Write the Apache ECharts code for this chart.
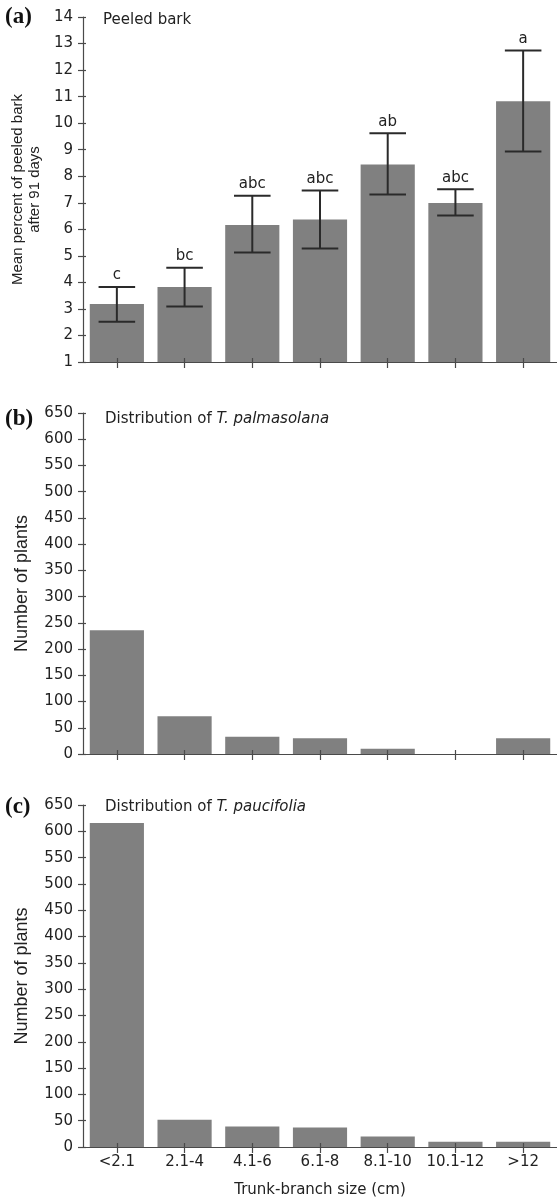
<!DOCTYPE html>
<html>
<head>
<meta charset="utf-8">
<script src="https://cdn.jsdelivr.net/npm/echarts@6/dist/echarts.min.js"></script>
<style>
    html, body {margin:0; padding:0; background:#fff;}
    #main {width:557px; height:1199px;}
</style>
</head>
<body>
<div id="main"></div>
<script>
// size classes, shared by all three panels
const sizeClasses = ['<2.1', '2.1-4', '4.1-6', '6.1-8', '8.1-10', '10.1-12', '>12'];

// (a) peeled bark, mean and error bar ends
const barkMean = [3.19, 3.83, 6.16, 6.37, 8.44, 6.99, 10.83];
const barkLow  = [2.52, 3.09, 5.13, 5.28, 7.31, 6.52, 8.93];
const barkHigh = [3.83, 4.55, 7.26, 7.46, 9.62, 7.51, 12.74];
const barkLetters = ['c', 'bc', 'abc', 'abc', 'ab', 'abc', 'a'];

// (b) and (c) counts of plants
const palmasolana = [236, 72, 33, 30, 10, 0, 30];
const paucifolia  = [616, 52, 39, 37, 20, 10, 10];

const FONT = 'DejaVu Sans';      // wide face, the figure is stretched sideways
const VFONT = 'Liberation Sans'; // rotated axis names
const INK = '#222';
const BAR = '#808080';
const AX = '#4a4a4a';

let myChart = echarts.init(document.getElementById('main'));

let grids = [
    {left: 83, width: 476, top: 17, height: 345},
    {left: 83, width: 476, top: 413, height: 341},
    {left: 83, width: 476, top: 805, height: 342}
];

function xAxes(gi, showLabels){
    let main = {
        type: 'category', gridIndex: gi, data: sizeClasses, position: 'bottom', z: 4,
        axisLine: {show: true, lineStyle: {color: AX, width: 1.2}},
        axisTick: {show: true, interval: 0, alignWithLabel: true, length: 6, lineStyle: {color: AX, width: 1.2}},
        axisLabel: {show: showLabels, interval: 0, color: INK, fontFamily: FONT, fontSize: 15, margin: 8},
        splitLine: {show: false}
    };
    if(showLabels){
        main.name = 'Trunk-branch size (cm)';
        main.nameLocation = 'middle';
        main.nameGap = 36;
        main.nameTextStyle = {color: INK, fontFamily: FONT, fontSize: 15};
    }
    let inner = {
        type: 'category', gridIndex: gi, data: sizeClasses, position: 'bottom', z: 4,
        axisLine: {show: false},
        axisTick: {show: true, interval: 0, alignWithLabel: true, inside: true, length: 4, lineStyle: {color: AX, width: 1.2}},
        axisLabel: {show: false},
        splitLine: {show: false}
    };
    return [main, inner];
}

function yAxes(gi, min, max, interval, name, nameGap, nameSize){
    let main = {
        type: 'value', gridIndex: gi, min: min, max: max, interval: interval, position: 'left', z: 4,
        name: name, nameLocation: 'middle', nameGap: nameGap,
        nameTextStyle: {color: INK, fontFamily: VFONT, fontSize: nameSize, lineHeight: 17},
        axisLine: {show: true, lineStyle: {color: AX, width: 1.2}},
        axisTick: {show: true, length: 5, lineStyle: {color: AX, width: 1.2}},
        axisLabel: {color: INK, fontFamily: FONT, fontSize: 15, margin: 10},
        splitLine: {show: false}
    };
    let inner = {
        type: 'value', gridIndex: gi, min: min, max: max, interval: interval, position: 'left', z: 4,
        axisLine: {show: false},
        axisTick: {show: true, inside: true, length: 3, lineStyle: {color: AX, width: 1.2}},
        axisLabel: {show: false},
        splitLine: {show: false}
    };
    return [main, inner];
}

let xa = [].concat(xAxes(0, false), xAxes(1, false), xAxes(2, true));
let ya = [].concat(
    yAxes(0, 1, 14, 1, 'Mean percent of peeled bark\nafter 91 days', 38, 15),
    yAxes(1, 0, 650, 50, 'Number of plants', 52, 18),
    yAxes(2, 0, 650, 50, 'Number of plants', 52, 18)
);

let errData = barkLow.map((lo, i) => [i, lo, barkHigh[i]]);

let panelLabel = {fontFamily: 'Liberation Serif', fontWeight: 'bold', fontSize: 23, color: '#111'};
let panelTitle = {fontFamily: FONT, fontSize: 15, color: INK, fontWeight: 'normal'};
let italic = Object.assign({}, panelTitle, {fontStyle: 'italic'});

let option = {
    animation: false,
    backgroundColor: '#fff',
    title: [
        {text: '(a)', left: 5, top: 6, padding: 0, textStyle: panelLabel},
        {text: 'Peeled bark', left: 103, top: 13, padding: 0, textStyle: panelTitle},
        {text: '(b)', left: 5, top: 408, padding: 0, textStyle: panelLabel},
        {text: '{n|Distribution of }{i|T. palmasolana}', left: 105, top: 412, padding: 0,
            textStyle: Object.assign({}, panelTitle, {rich: {n: panelTitle, i: italic}})},
        {text: '(c)', left: 5, top: 796, padding: 0, textStyle: panelLabel},
        {text: '{n|Distribution of }{i|T. paucifolia}', left: 105, top: 800, padding: 0,
            textStyle: Object.assign({}, panelTitle, {rich: {n: panelTitle, i: italic}})}
    ],
    grid: grids,
    xAxis: xa,
    yAxis: ya,
    series: [
        {
            name: 'Peeled bark', type: 'bar', xAxisIndex: 0, yAxisIndex: 0,
            data: barkMean, barCategoryGap: '20%',
            itemStyle: {color: BAR}
        },
        {
            name: 'error', type: 'custom', xAxisIndex: 0, yAxisIndex: 0,
            data: errData, z: 5,
            renderItem: function(params, api){
                let lo = api.coord([api.value(0), api.value(1)]);
                let hi = api.coord([api.value(0), api.value(2)]);
                let half = api.size([1, 0])[0] * 0.27;
                let st = {stroke: '#2a2a2a', lineWidth: 2};
                return {
                    type: 'group',
                    children: [
                        {type: 'line', shape: {x1: hi[0], y1: hi[1], x2: lo[0], y2: lo[1]}, style: st},
                        {type: 'line', shape: {x1: hi[0] - half, y1: hi[1], x2: hi[0] + half, y2: hi[1]}, style: st},
                        {type: 'line', shape: {x1: lo[0] - half, y1: lo[1], x2: lo[0] + half, y2: lo[1]}, style: st},
                        {type: 'text', x: hi[0], y: hi[1] - 4,
                            style: {text: barkLetters[params.dataIndex], textAlign: 'center', textVerticalAlign: 'bottom',
                                fill: INK, font: '15px "DejaVu Sans"'}}
                    ]
                };
            }
        },
        {
            name: 'T. palmasolana', type: 'bar', xAxisIndex: 2, yAxisIndex: 2,
            data: palmasolana, barCategoryGap: '20%',
            itemStyle: {color: BAR}
        },
        {
            name: 'T. paucifolia', type: 'bar', xAxisIndex: 4, yAxisIndex: 4,
            data: paucifolia, barCategoryGap: '20%',
            itemStyle: {color: BAR}
        }
    ]
};
myChart.setOption(option);
</script>
</body>
</html>
